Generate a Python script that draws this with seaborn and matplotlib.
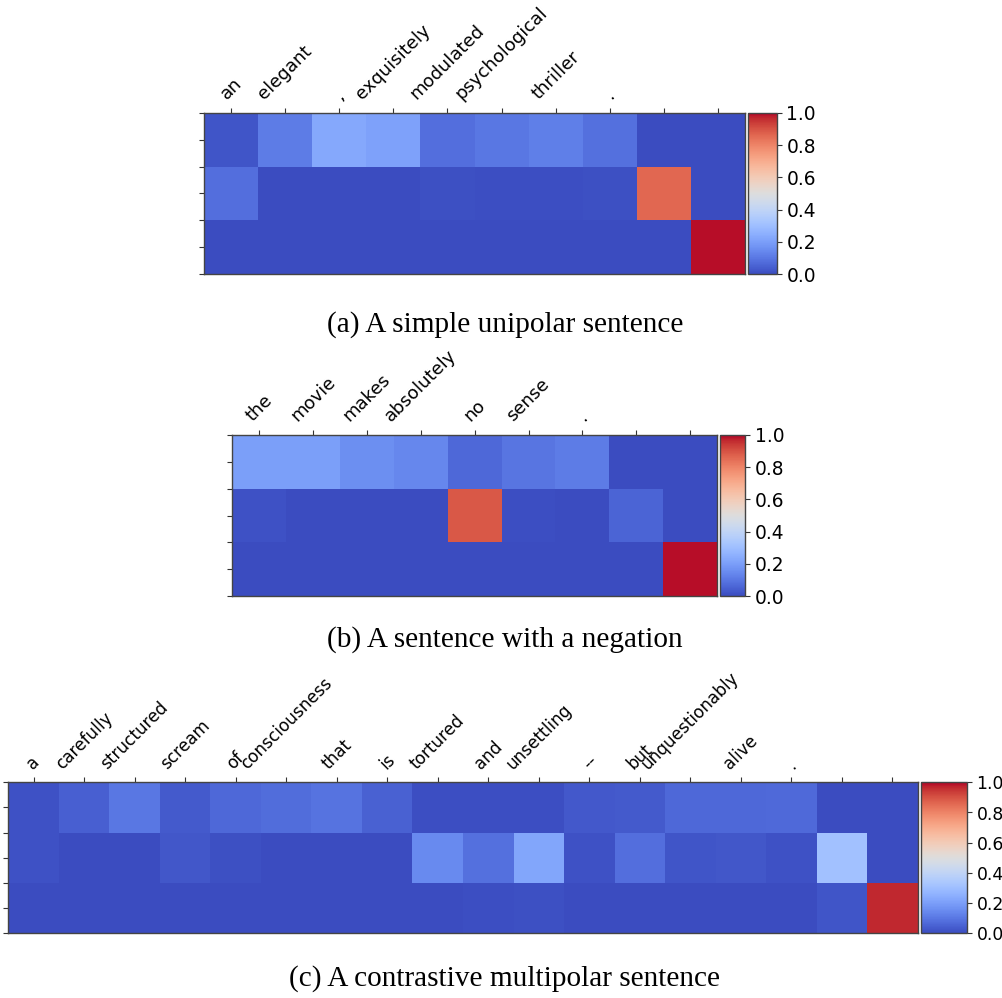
import numpy as np
import pandas as pd
import matplotlib
matplotlib.use("Agg")
import matplotlib.pyplot as plt
import seaborn as sns

# ---------------- data ----------------
tokens_a = ["an", "elegant", ",", "exquisitely", "modulated", "psychological",
            "thriller", ".", "", ""]
attn_a_row1 = [0.02, 0.11, 0.23, 0.21, 0.08, 0.10, 0.12, 0.085, 0.0, 0.0]
attn_a_row2 = [0.08, 0.0, 0.0, 0.0, 0.01, 0.005, 0.005, 0.01, 0.86, 0.0]
attn_a_row3 = [0.0, 0.0, 0.0, 0.0, 0.0, 0.0, 0.0, 0.0, 0.0, 0.99]

tokens_b = ["the", "movie", "makes", "absolutely", "no", "sense", ".", "", ""]
attn_b_row1 = [0.20, 0.20, 0.16, 0.14, 0.065, 0.095, 0.11, 0.0, 0.0]
attn_b_row2 = [0.015, 0.0, 0.0, 0.0, 0.89, 0.005, 0.0, 0.055, 0.0]
attn_b_row3 = [0.0, 0.0, 0.0, 0.0, 0.0, 0.0, 0.0, 0.0, 0.99]

tokens_c = ["a", "carefully", "structured", "scream", "of", "consciousness",
            "that", "is", "tortured", "and", "unsettling", "--", "but",
            "unquestionably", "alive", ".", "", ""]
attn_c_row1 = [0.015, 0.045, 0.10, 0.035, 0.065, 0.075, 0.09, 0.05, 0.005,
               0.005, 0.005, 0.03, 0.035, 0.065, 0.065, 0.07, 0.0, 0.0]
attn_c_row2 = [0.015, 0.0, 0.0, 0.025, 0.008, 0.0, 0.0, 0.003, 0.145,
               0.085, 0.22, 0.012, 0.08, 0.02, 0.025, 0.015, 0.31, 0.0]
attn_c_row3 = [0.0, 0.0, 0.0, 0.0, 0.0, 0.0, 0.0, 0.0, 0.0,
               0.005, 0.01, 0.0, 0.0, 0.0, 0.0, 0.0, 0.02, 0.965]

captions = ["(a) A simple unipolar sentence",
            "(b) A sentence with a negation",
            "(c) A contrastive multipolar sentence"]
cbar_ticks = [0.0, 0.2, 0.4, 0.6, 0.8, 1.0]

# ---------------- layout ----------------
W, H = 1003, 998
fig = plt.figure(figsize=(W / 100, H / 100), dpi=100)


def rect(x0, x1, y0, y1):
    return [x0 / W, (H - y1) / H, (x1 - x0) / W, (y1 - y0) / H]


panels = [
    (tokens_a, [attn_a_row1, attn_a_row2, attn_a_row3],
     rect(204, 745, 112.7, 274.3), rect(748.3, 776.7, 112.7, 274.3), 13.0, 13.4),
    (tokens_b, [attn_b_row1, attn_b_row2, attn_b_row3],
     rect(232.3, 717, 435, 596), rect(720.3, 745.3, 435, 596), 13.0, 13.4),
    (tokens_c, [attn_c_row1, attn_c_row2, attn_c_row3],
     rect(8.3, 917.7, 782.3, 933.3), rect(921, 966.7, 782.3, 933.3), 12.2, 12.4),
]

for tokens, rows, r_ax, r_cax, fs, cfs in panels:
    ax = fig.add_axes(r_ax)
    cax = fig.add_axes(r_cax)
    df = pd.DataFrame(np.array(rows), columns=range(len(tokens)))
    sns.heatmap(df, ax=ax, cbar_ax=cax, cmap="coolwarm", vmin=0, vmax=1,
                cbar=True, linewidths=0)
    ncol = len(tokens)
    ax.set_xticks(np.arange(ncol) + 0.5)
    ax.set_xticklabels(tokens, rotation=45, ha="center", fontsize=fs,
                       family="DejaVu Sans")
    ax.set_yticks(np.arange(0, 3.01, 0.5))
    ax.set_yticklabels([])
    ax.tick_params(axis="x", top=True, bottom=False, labeltop=True,
                   labelbottom=False, length=3.5, width=0.8, color="#333333",
                   pad=3.5)
    ax.tick_params(axis="y", left=True, length=3.5, width=0.8,
                   color="#333333")
    ax.set_xlabel("")
    ax.set_ylabel("")
    for s in ax.spines.values():
        s.set_visible(True)
        s.set_linewidth(1.0)
        s.set_color("#444444")
    cbar = ax.collections[0].colorbar
    cbar.set_ticks(cbar_ticks)
    cbar.set_ticklabels([f"{t:.1f}" for t in cbar_ticks])
    cbar.outline.set_visible(True)
    cbar.outline.set_linewidth(1.0)
    cbar.outline.set_edgecolor("#444444")
    cax.tick_params(labelsize=cfs, length=3.5, width=0.8,
                    color="#333333", labelcolor="black")

cap_y = [325, 640, 979]
for cap, y in zip(captions, cap_y):
    fig.text(505 / W, 1 - y / H, cap, ha="center", va="center",
             fontsize=21.1, family="Liberation Serif", color="black")

fig.savefig("out.png", dpi=100)
